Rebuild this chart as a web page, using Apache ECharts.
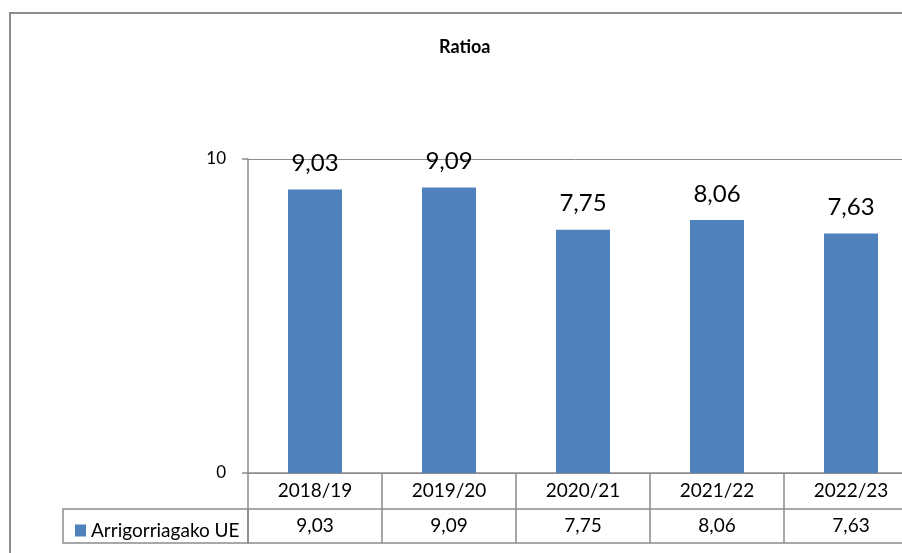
<!DOCTYPE html>
<html>
<head>
<meta charset="utf-8">
<script src="https://cdn.jsdelivr.net/npm/echarts@6/dist/echarts.min.js"></script>
<style>
  html, body { margin: 0; padding: 0; background: #fff; }
  #main { width: 902px; height: 553px; }
</style>
</head>
<body>
<div id="main"></div>
<script>
const seasons = ["2018/19", "2019/20", "2020/21", "2021/22", "2022/23"];
const ratio = [9.03, 9.09, 7.75, 8.06, 7.63];
const seriesName = "Arrigorriagako UE";
const yTicks = [0, 10];

const fmt = v => v.toFixed(2).replace(".", ",");
const lineColor = "#8c8c8c";
const font = "Lato";

let myChart = echarts.init(document.getElementById("main"));
myChart.setOption({
  animation: false,
  textStyle: { fontFamily: font, color: "#000" },
  title: {
    text: "Ratioa",
    left: 434,
    top: 33,
    textStyle: { fontFamily: font, fontSize: 18, fontWeight: "bold", color: "#000" }
  },
  legend: {
    left: 70,
    top: 516,
    icon: "rect",
    itemWidth: 11,
    itemHeight: 12,
    itemGap: 5,
    textStyle: { fontFamily: font, fontSize: 19, color: "#000" },
    data: [seriesName]
  },
  grid: {
    left: 248,
    top: 159,
    width: 670,
    bottom: 80,
    outerBoundsMode: "none"
  },
  xAxis: [
    {
      // category row of the data table
      type: "category",
      data: seasons,
      position: "bottom",
      axisLine: { lineStyle: { color: lineColor, width: 1.5 } },
      axisTick: { show: true, length: 70, lineStyle: { color: lineColor, width: 1.5 } },
      axisLabel: { margin: 8, fontSize: 19, lineHeight: 20, color: "#000", fontFamily: font }
    },
    {
      // value row of the data table
      type: "category",
      data: ratio.map(fmt),
      position: "bottom",
      offset: 36,
      axisLine: { lineStyle: { color: lineColor, width: 1.5 } },
      axisTick: { show: false },
      axisLabel: { margin: 7, fontSize: 19, lineHeight: 20, color: "#000", fontFamily: font }
    },
    {
      type: "category",
      data: seasons,
      position: "bottom",
      offset: 70,
      axisLine: { lineStyle: { color: lineColor, width: 1.5 } },
      axisTick: { show: false },
      axisLabel: { show: false }
    }
  ],
  yAxis: {
    type: "value",
    min: yTicks[0],
    max: yTicks[1],
    interval: 10,
    axisLine: { show: true, lineStyle: { color: lineColor, width: 1.5 } },
    axisTick: { show: true, length: 6, lineStyle: { color: lineColor, width: 1.5 } },
    splitLine: { show: true, lineStyle: { color: lineColor, width: 1 } },
    axisLabel: { margin: 22, fontSize: 17, color: "#000", fontFamily: font }
  },
  graphic: [
    {
      // outer chart frame
      type: "rect",
      shape: { x: 10, y: 13, width: 1000, height: 700 },
      style: { fill: "none", stroke: lineColor, lineWidth: 2 },
      silent: true
    },
    {
      // legend key cell of the data table
      type: "rect",
      shape: { x: 63, y: 509, width: 185, height: 34 },
      style: { fill: "none", stroke: lineColor, lineWidth: 1.5 },
      silent: true
    }
  ],
  series: [
    {
      name: seriesName,
      type: "bar",
      data: ratio,
      barWidth: 54,
      itemStyle: { color: "#4f81bd" },
      label: {
        show: true,
        position: "top",
        distance: 14,
        fontSize: 24,
        color: "#000",
        fontFamily: font,
        formatter: p => fmt(p.value)
      }
    }
  ]
});
</script>
</body>
</html>
